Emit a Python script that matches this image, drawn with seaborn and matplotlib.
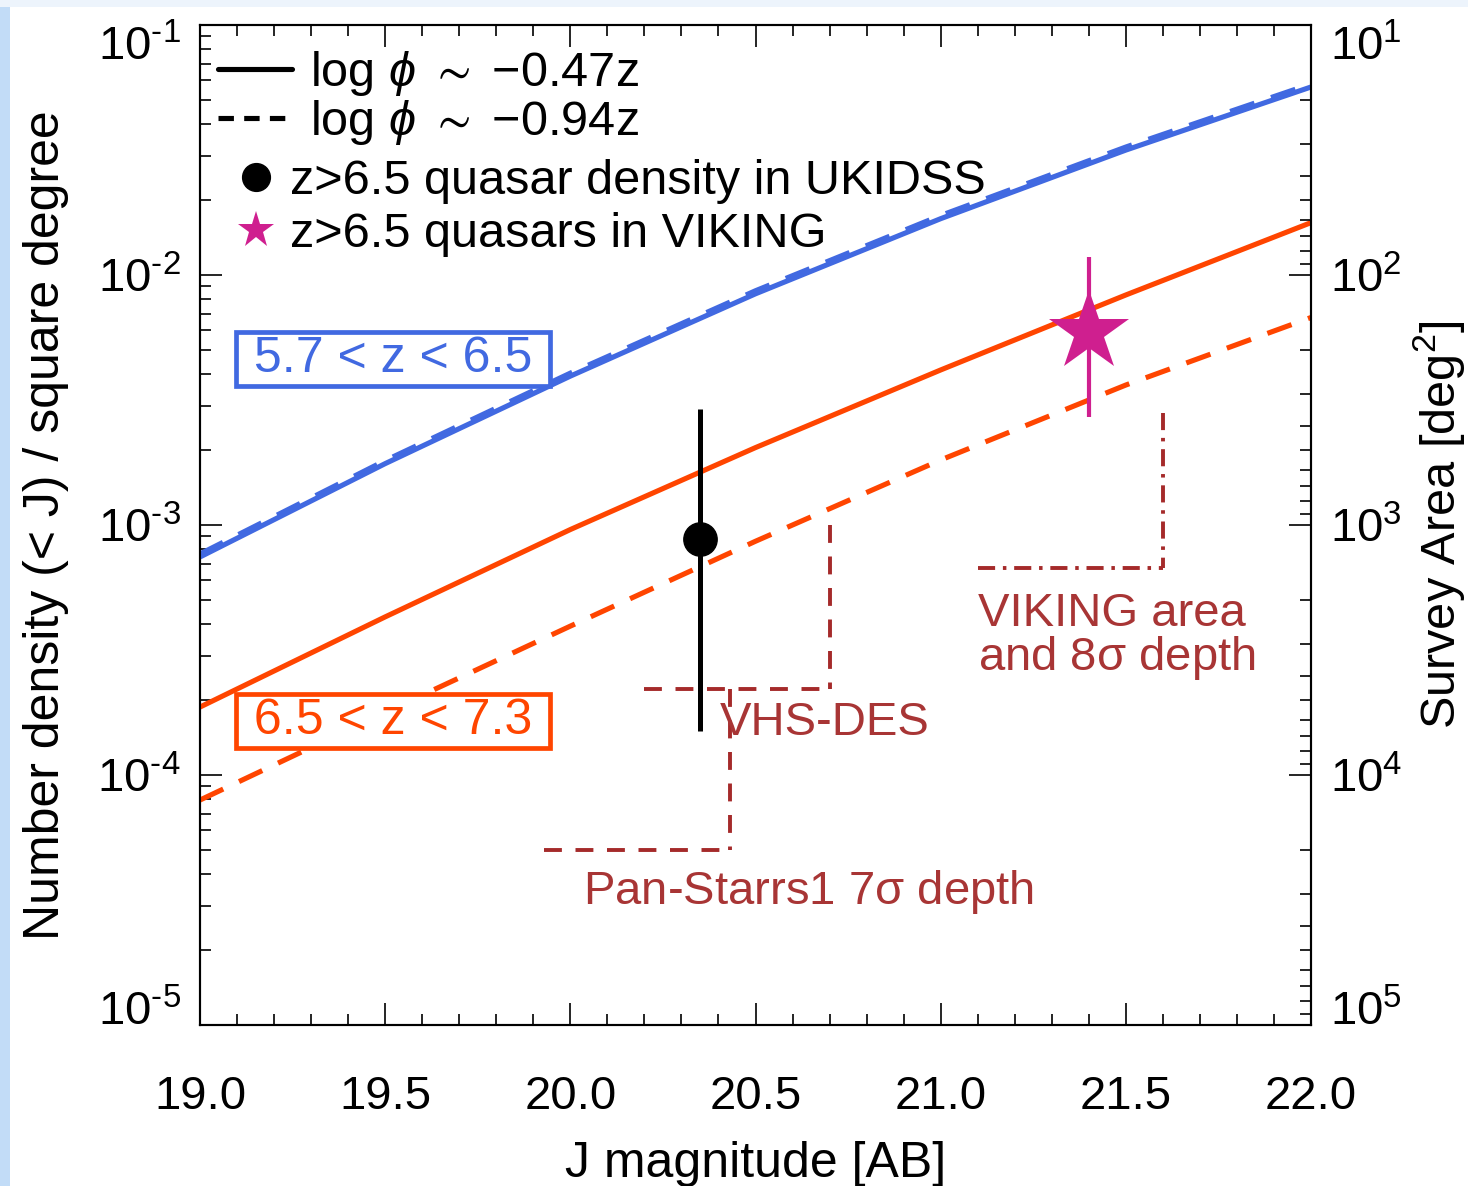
import matplotlib
matplotlib.use("Agg")
import numpy as np
import pandas as pd
import matplotlib.pyplot as plt
import seaborn as sns
from matplotlib.lines import Line2D
from matplotlib.patches import Rectangle
from matplotlib.ticker import MultipleLocator, FormatStrFormatter, LogLocator, FuncFormatter

# ---------------- data ----------------
J_grid = [19.0, 19.5, 20.0, 20.5, 21.0, 21.5, 22.0]
dens_low_slow = [7.45e-4, 1.76e-3, 3.94e-3, 8.41e-3, 1.68e-2, 3.16e-2, 5.65e-2]   # 5.7<z<6.5, -0.47z
dens_low_fast = [7.66e-4, 1.81e-3, 4.05e-3, 8.65e-3, 1.73e-2, 3.25e-2, 5.81e-2]   # 5.7<z<6.5, -0.94z
dens_high_slow = [1.87e-4, 4.29e-4, 9.59e-4, 2.04e-3, 4.17e-3, 8.32e-3, 1.62e-2]  # 6.5<z<7.3, -0.47z
dens_high_fast = [7.94e-5, 1.78e-4, 3.94e-4, 8.61e-4, 1.82e-3, 3.63e-3, 6.76e-3]  # 6.5<z<7.3, -0.94z

ukidss_J = [20.35]
ukidss_n = [8.8e-4]
ukidss_lo = [1.5e-4]
ukidss_hi = [2.9e-3]

viking_J = [21.4]
viking_n = [5.9e-3]
viking_lo = [2.7e-3]
viking_hi = [1.18e-2]

# survey depth markers: vertical (J, n_top, n_bottom), horizontal (J_left, J_right, n)
vhs_vert = [20.70, 1.0e-3, 2.2e-4]
vhs_horiz = [20.20, 20.70, 2.2e-4]
ps1_vert = [20.43, 2.2e-4, 5.0e-5]
ps1_horiz = [19.93, 20.43, 5.0e-5]
vik_vert = [21.60, 2.8e-3, 6.7e-4]
vik_horiz = [21.10, 21.60, 6.7e-4]

x_ticks = [19.0, 19.5, 20.0, 20.5, 21.0, 21.5, 22.0]

# ---------------- style ----------------
sns.set_style("ticks")
plt.rcParams["font.family"] = ["Liberation Sans", "DejaVu Sans"]
plt.rcParams["mathtext.fontset"] = "custom"
plt.rcParams["mathtext.rm"] = "Liberation Sans"
plt.rcParams["mathtext.it"] = "Liberation Sans:italic"
plt.rcParams["mathtext.default"] = "regular"
for key in ["text.color", "axes.labelcolor", "xtick.color", "ytick.color", "axes.edgecolor"]:
    plt.rcParams[key] = "black"

BLUE = "#4169E1"
ORANGE = "#FF4500"
MAGENTA = "#CF1F8F"
BROWN = "#A52A2A"
BROWN_TXT = "#A83535"

fig = plt.figure(figsize=(14.68, 11.86), dpi=100)
fig.patch.set_facecolor("white")
fig.patches.append(Rectangle((0, 0), 10 / 1468, 1, transform=fig.transFigure,
                             facecolor="#C2DCF7", edgecolor="none", zorder=-5))
fig.patches.append(Rectangle((0, 1 - 7 / 1186), 1, 7 / 1186, transform=fig.transFigure,
                             facecolor="#EDF4FC", edgecolor="none", zorder=-5))

ax = fig.add_axes([200 / 1468, 161 / 1186, 1111 / 1468, 1000 / 1186])
ax.set_yscale("log")

df = pd.DataFrame({
    "J": J_grid * 4,
    "n": dens_low_fast + dens_low_slow + dens_high_slow + dens_high_fast,
    "curve": (["low_fast"] * 7 + ["low_slow"] * 7 + ["high_slow"] * 7 + ["high_fast"] * 7),
})
styles = {
    "low_fast": dict(color=BLUE, linestyle=(0, (5, 3.4))),
    "low_slow": dict(color=BLUE, linestyle="-"),
    "high_slow": dict(color=ORANGE, linestyle="-"),
    "high_fast": dict(color=ORANGE, linestyle=(0, (5, 3.4))),
}
for name, st in styles.items():
    sub = df[df["curve"] == name]
    sns.lineplot(data=sub, x="J", y="n", ax=ax, color=st["color"],
                 linestyle=st["linestyle"], lw=3.7, legend=False, zorder=3)

# depth markers
dash = (0, (4.6, 3.5))
dashdot = (0, (4.4, 2.0, 0.9, 2.0))
for vert, horiz, ls in [(vhs_vert, vhs_horiz, dash), (ps1_vert, ps1_horiz, dash),
                        (vik_vert, vik_horiz, dashdot)]:
    ax.plot([vert[0], vert[0]], [vert[1], vert[2]], color=BROWN, lw=2.8, linestyle=ls, zorder=2)
    ax.plot([horiz[0], horiz[1]], [horiz[2], horiz[2]], color=BROWN, lw=2.8, linestyle=ls, zorder=2)

ax.text(20.404, 1.61e-4, "VHS-DES", color=BROWN_TXT, fontsize=34, va="center", ha="left", zorder=4)
ax.text(20.034, 3.40e-5, r"Pan-Starrs1 7$\sigma$ depth", color=BROWN_TXT, fontsize=34,
        va="center", ha="left")
ax.text(21.10, 3.56e-4, "VIKING area\n" + r"and 8$\sigma$ depth", color=BROWN_TXT, fontsize=34,
        va="center", ha="left", linespacing=0.95)

# data points
ax.errorbar(ukidss_J, ukidss_n,
            yerr=[[ukidss_n[0] - ukidss_lo[0]], [ukidss_hi[0] - ukidss_n[0]]],
            fmt="o", color="black", ms=24, elinewidth=3.6, capsize=0, zorder=6)
ax.errorbar(viking_J, viking_n,
            yerr=[[viking_n[0] - viking_lo[0]], [viking_hi[0] - viking_n[0]]],
            fmt="*", color=MAGENTA, ms=61, mew=0, elinewidth=3.0, capsize=0, zorder=6)

# redshift boxes
ax.text(19.108, 4.61e-3, " 5.7 < z < 6.5 ", color=BLUE, fontsize=36, va="center", ha="left",
        zorder=7, bbox=dict(boxstyle="square,pad=0.08", fc="white", ec=BLUE, lw=3.4))
ax.text(19.108, 1.64e-4, " 6.5 < z < 7.3 ", color=ORANGE, fontsize=36, va="center", ha="left",
        zorder=7, bbox=dict(boxstyle="square,pad=0.08", fc="white", ec=ORANGE, lw=3.4))


def log_label(v, pos):
    e = int(round(np.log10(v)))
    s = str(e).replace("-", "\u2010")
    return r"$\mathdefault{10^{" + s + r"}}$"


# axes
ax.set_xlim(19.0, 22.0)
ax.set_ylim(1e-5, 1e-1)
ax.set_xticks(x_ticks)
ax.xaxis.set_major_formatter(FormatStrFormatter("%.1f"))
ax.xaxis.set_minor_locator(MultipleLocator(0.1))
ax.yaxis.set_major_locator(LogLocator(base=10, numticks=10))
ax.yaxis.set_minor_locator(LogLocator(base=10, subs=np.arange(2, 10), numticks=10))
ax.yaxis.set_major_formatter(FuncFormatter(log_label))
ax.tick_params(axis="x", which="both", direction="in", top=True, bottom=True)
ax.tick_params(axis="y", which="both", direction="in", left=True, right=False)
ax.tick_params(which="major", length=16, width=1.2, labelsize=34)
ax.tick_params(which="minor", length=8, width=1.2)
ax.tick_params(axis="x", which="major", pad=36)
ax.tick_params(axis="y", which="major", pad=14)
for s in ax.spines.values():
    s.set_linewidth(1.5)
ax.set_xlabel("J magnitude [AB]", fontsize=36, labelpad=16)
ax.set_ylabel("Number density (< J) / square degree", fontsize=36, labelpad=20)

ax2 = ax.twinx()
ax2.set_yscale("log")
ax2.set_ylim(1e5, 10)
ax2.yaxis.set_major_locator(LogLocator(base=10, numticks=10))
ax2.yaxis.set_minor_locator(LogLocator(base=10, subs=np.arange(2, 10), numticks=10))
ax2.yaxis.set_major_formatter(FuncFormatter(log_label))
ax2.tick_params(axis="y", which="both", direction="in")
ax2.tick_params(which="major", length=16, width=1.2, labelsize=34, pad=14)
ax2.tick_params(which="minor", length=8, width=1.2)
for s in ax2.spines.values():
    s.set_linewidth(1.5)
ax2.set_ylabel("Survey Area [deg$^2$]", fontsize=35, labelpad=6)

# legends
h1 = [Line2D([], [], color="black", lw=3.7, linestyle="-"),
      Line2D([], [], color="black", lw=3.7, linestyle=(0, (3, 2)))]
leg1 = ax.legend(h1, [r"log $\mathit{\phi}$ $\sim$ $-$0.47z", r"log $\mathit{\phi}$ $\sim$ $-$0.94z"],
                 loc="upper left", bbox_to_anchor=(0.0162, 0.976), frameon=False,
                 fontsize=35, handlelength=1.52, handletextpad=0.37, labelspacing=0.0,
                 borderpad=0, borderaxespad=0)
ax.add_artist(leg1)
h2 = [Line2D([], [], color="black", marker="o", ms=20, linestyle="none"),
      Line2D([], [], color=MAGENTA, marker="*", ms=28, mew=0, linestyle="none")]
leg2 = ax.legend(h2, ["z>6.5 quasar density in UKIDSS", "z>6.5 quasars in VIKING"],
                 loc="upper left", bbox_to_anchor=(0.0288, 0.866), frameon=False,
                 fontsize=35, handlelength=0.97, handletextpad=0.22, labelspacing=0.17,
                 borderpad=0, borderaxespad=0)

# end tick labels sit inside the axis range, as in the original
fig.canvas.draw()
for t in ax.yaxis.get_major_ticks():
    loc = t.get_loc()
    if np.isclose(loc, 1e-1):
        t.label1.set_verticalalignment("top")
    elif np.isclose(loc, 1e-5):
        t.label1.set_verticalalignment("baseline")
for t in ax2.yaxis.get_major_ticks():
    loc = t.get_loc()
    if np.isclose(loc, 10):
        t.label2.set_verticalalignment("top")
    elif np.isclose(loc, 1e5):
        t.label2.set_verticalalignment("baseline")

fig.savefig("out.png", dpi=100)
